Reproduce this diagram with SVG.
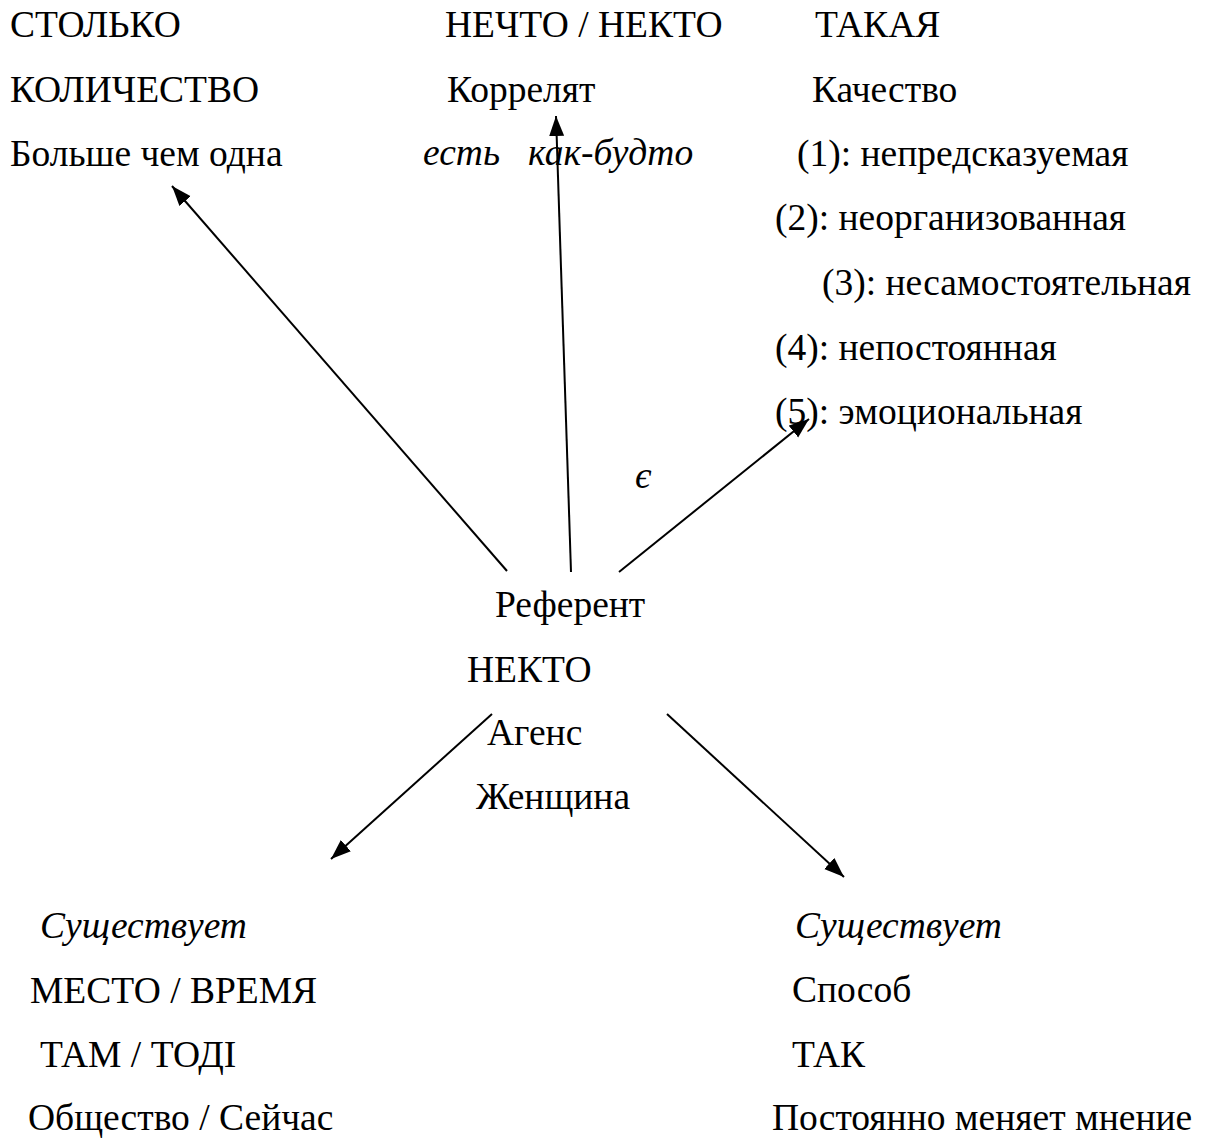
<svg xmlns="http://www.w3.org/2000/svg" width="1205" height="1138" viewBox="0 0 1205 1138">
<style>
text{font-family:"Liberation Serif","Times New Roman",serif;font-size:37.5px;fill:#000}
.i{font-style:italic}
.c{stroke:#000;stroke-width:2;fill:none;marker-end:url(#ah)}
</style>
<defs>
<marker id="ah" markerUnits="userSpaceOnUse" markerWidth="22" markerHeight="16" refX="20" refY="7.5" orient="auto">
<path d="M0,0 L20,7.5 L0,15 Z" fill="#000"/>
</marker>
</defs>
<rect width="1205" height="1138" fill="#fff"/>
<g id="connectors">
<line class="c" x1="507" y1="571" x2="172" y2="186"/>
<line class="c" x1="571" y1="572" x2="556" y2="116"/>
<line class="c" x1="619" y1="572" x2="809" y2="419"/>
<line class="c" x1="492" y1="714" x2="331" y2="859"/>
<line class="c" x1="667" y1="714" x2="844" y2="877"/>
</g>
<g id="quantity">
<text x="10" y="37">СТОЛЬКО</text>
<text x="10" y="102">КОЛИЧЕСТВО</text>
<text x="10" y="166">Больше чем одна</text>
</g>
<g id="correlate">
<text x="445" y="37">НЕЧТО / НЕКТО</text>
<text x="447" y="102">Коррелят</text>
<text class="i" x="423" y="165" xml:space="preserve">есть   как-будто</text>
</g>
<g id="quality">
<text x="815" y="37">ТАКАЯ</text>
<text x="812" y="102">Качество</text>
<text x="797" y="166">(1): непредсказуемая</text>
<text x="775" y="230">(2): неорганизованная</text>
<text x="822" y="295">(3): несамостоятельная</text>
<text x="775" y="360">(4): непостоянная</text>
<text x="775" y="424">(5): эмоциональная</text>
</g>
<g id="label-e">
<text class="i" x="635" y="488">є</text>
</g>
<g id="referent">
<text x="495" y="617">Референт</text>
<text x="467" y="682">НЕКТО</text>
<text x="487" y="745">Агенс</text>
<text x="476" y="809">Женщина</text>
</g>
<g id="place-time">
<text class="i" x="40" y="938">Существует</text>
<text x="30" y="1003">МЕСТО / ВРЕМЯ</text>
<text x="40" y="1067">ТАМ / ТОДІ</text>
<text x="28" y="1130">Общество / Сейчас</text>
</g>
<g id="manner">
<text class="i" x="795" y="938">Существует</text>
<text x="792" y="1002">Способ</text>
<text x="792" y="1067">ТАК</text>
<text x="772" y="1130">Постоянно меняет мнение</text>
</g>
</svg>
